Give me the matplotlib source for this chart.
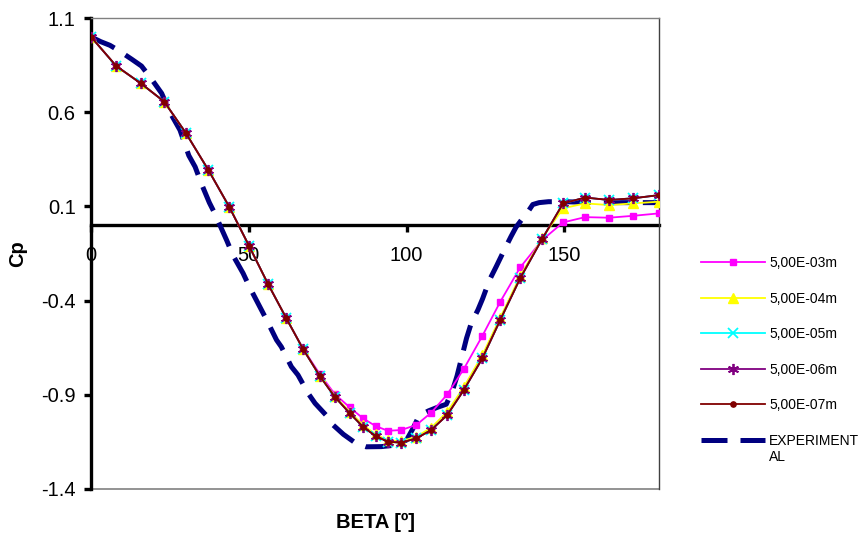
import matplotlib
matplotlib.use("Agg")
import matplotlib.pyplot as plt
from matplotlib.lines import Line2D

plt.rcParams['font.family'] = ['Liberation Sans', 'DejaVu Sans']

# ---------------- data ----------------
beta_sim = [0, 8, 15.8, 23.2, 30, 37.2, 43.8, 50.1, 56.1, 61.9, 67.2, 72.5, 77.2, 82, 86.2,
            90.2, 94.1, 98.3, 103.1, 107.8, 112.9, 118.1, 124, 129.7, 136, 142.9, 149.6,
            156.6, 164.2, 171.8, 180]

cp_5e03 = [1.0, 0.845, 0.753, 0.656, 0.491, 0.293, 0.098, -0.11, -0.312, -0.494, -0.655,
           -0.79, -0.895, -0.967, -1.025, -1.066, -1.091, -1.087, -1.06, -0.995, -0.898,
           -0.764, -0.588, -0.406, -0.224, -0.08, 0.015, 0.043, 0.040, 0.05, 0.063]

cp_5e04 = [1.0, 0.845, 0.753, 0.656, 0.491, 0.293, 0.098, -0.11, -0.312, -0.494, -0.657,
           -0.80, -0.905, -0.99, -1.06, -1.11, -1.142, -1.146, -1.122, -1.075, -0.99,
           -0.86, -0.69, -0.49, -0.27, -0.07, 0.09, 0.116, 0.107, 0.116, 0.125]

cp_5e05 = [1.0, 0.845, 0.753, 0.656, 0.491, 0.293, 0.098, -0.11, -0.312, -0.494, -0.657,
           -0.80, -0.91, -0.998, -1.07, -1.119, -1.149, -1.154, -1.131, -1.087, -1.007,
           -0.876, -0.707, -0.503, -0.282, -0.075, 0.116, 0.147, 0.134, 0.143, 0.16]

cp_5e06 = [1.0, 0.845, 0.753, 0.656, 0.491, 0.293, 0.098, -0.11, -0.312, -0.494, -0.657,
           -0.80, -0.91, -0.998, -1.07, -1.119, -1.149, -1.154, -1.131, -1.087, -1.007,
           -0.876, -0.707, -0.503, -0.282, -0.075, 0.116, 0.147, 0.134, 0.143, 0.16]

cp_5e07 = [1.0, 0.845, 0.753, 0.656, 0.491, 0.293, 0.098, -0.11, -0.312, -0.494, -0.657,
           -0.80, -0.91, -0.998, -1.07, -1.119, -1.149, -1.154, -1.131, -1.087, -1.007,
           -0.876, -0.707, -0.503, -0.282, -0.075, 0.116, 0.147, 0.134, 0.143, 0.16]

beta_exp = [0, 3, 6, 9, 13, 16, 19, 22.4, 25, 28.2, 31, 33, 35, 37.5, 39, 43, 45, 48.2, 50.3,
            53.5, 55.4, 58.8, 60.3, 63.5, 65.6, 68.8, 71, 74.6, 76.7, 80, 84, 87.2, 92, 96.7,
            100, 102, 104, 107, 110, 112.6, 114.5, 116, 117.5, 119, 120.5, 122.6, 124.1,
            126.3, 128.4, 131, 133.1, 134.7, 136.5, 138.4, 140, 142, 145, 150, 160, 170, 180]
cp_exp = [1.0, 0.975, 0.955, 0.925, 0.88, 0.845, 0.78, 0.70, 0.60, 0.505, 0.37, 0.31, 0.22,
          0.12, 0.07, -0.08, -0.16, -0.255, -0.33, -0.433, -0.494, -0.609, -0.645, -0.751,
          -0.795, -0.892, -0.945, -1.01, -1.06, -1.11, -1.158, -1.176, -1.175, -1.167,
          -1.14, -1.08, -1.01, -0.985, -0.965, -0.95, -0.88, -0.80, -0.70, -0.60, -0.52,
          -0.45, -0.39, -0.29, -0.22, -0.13, -0.06, -0.01, 0.03, 0.07, 0.11, 0.12, 0.125,
          0.125, 0.12, 0.12, 0.12]

labels = ['5,00E-03m', '5,00E-04m', '5,00E-05m', '5,00E-06m', '5,00E-07m', 'EXPERIMENT']
label_wrap = 'AL'
x_ticks = [0, 50, 100, 150]
y_ticks = [-1.4, -0.9, -0.4, 0.1, 0.6, 1.1]

# ---------------- figure ----------------
W, H = 861, 537
fig = plt.figure(figsize=(W / 100, H / 100), dpi=100)
ax = fig.add_axes([91 / W, 1 - 489 / H, (659 - 91) / W, (489 - 18) / H])

ax.plot(beta_sim, cp_5e03, color='#FF00FF', lw=1.3, marker='s', ms=4.2,
        mec='#FF00FF', mfc='#FF00FF', label=labels[0], zorder=3)
ax.plot(beta_sim, cp_5e04, color='#FFFF00', lw=1.3, marker='^', ms=7,
        mec='#FFFF00', mfc='#FFFF00', label=labels[1], zorder=3)
ax.plot(beta_sim, cp_5e05, color='#00FFFF', lw=1.3, marker='x', ms=6.5, mew=1.3,
        mec='#00FFFF', label=labels[2], zorder=3)
ax.plot(beta_sim, cp_5e06, color='#800080', lw=1.3, marker=(6, 2, 0), ms=8, mew=1.3,
        mec='#800080', label=labels[3], zorder=3)
ax.plot(beta_sim, cp_5e07, color='#800000', lw=1.3, marker='o', ms=3.8,
        mec='#800000', mfc='#800000', label=labels[4], zorder=3)
ax.plot(beta_exp, cp_exp, color='#000080', lw=3.6, dashes=(5.2, 2.6),
        dash_capstyle='butt', label=labels[5], zorder=2)

ax.set_xlim(0, 180)
ax.set_ylim(-1.4, 1.1)
ax.set_xticks(x_ticks)
ax.set_yticks(y_ticks)
ax.set_xticklabels([str(v) for v in x_ticks])
ax.set_yticklabels([f'{v:.1f}' for v in y_ticks])

# spines
ax.spines['left'].set_color('black')
ax.spines['left'].set_linewidth(2.4)
ax.spines['bottom'].set_position(('data', 0))
ax.spines['bottom'].set_color('black')
ax.spines['bottom'].set_linewidth(2.4)
ax.spines['bottom'].set_zorder(1)
for s in ['top', 'right']:
    ax.spines[s].set_color('#808080')
    ax.spines[s].set_linewidth(1.0)
ax.spines['right'].set_color('#404040')
ax.add_line(Line2D([0, 1], [0, 0], transform=ax.transAxes, color='#808080', lw=1.2,
                   clip_on=False, zorder=1))

ax.tick_params(axis='y', direction='out', length=5, width=2.4, labelsize=14.5, pad=6)
ax.tick_params(axis='x', direction='out', length=5, width=2.4, labelsize=14.5, pad=10)

ax.set_xlabel('BETA [º]', fontsize=14.5, fontweight='bold')
ax.xaxis.set_label_coords(0.5, -0.05)
ax.set_ylabel('Cp', fontsize=14.5, fontweight='bold')
ax.yaxis.set_label_coords(-0.112, 0.5)

leg = fig.legend(loc='upper left', bbox_to_anchor=(701 / W, 1 - 256 / H),
                 frameon=False, fontsize=10, handlelength=4.6, handletextpad=0.3,
                 labelspacing=1.55, borderaxespad=0, borderpad=0)

fig.canvas.draw()
last = leg.get_texts()[-1]
bb = last.get_window_extent()
fig.text(bb.x0 / W, (bb.y0 - 2) / H, label_wrap, fontsize=10, ha='left', va='top')

fig.savefig('out.png', dpi=100)
